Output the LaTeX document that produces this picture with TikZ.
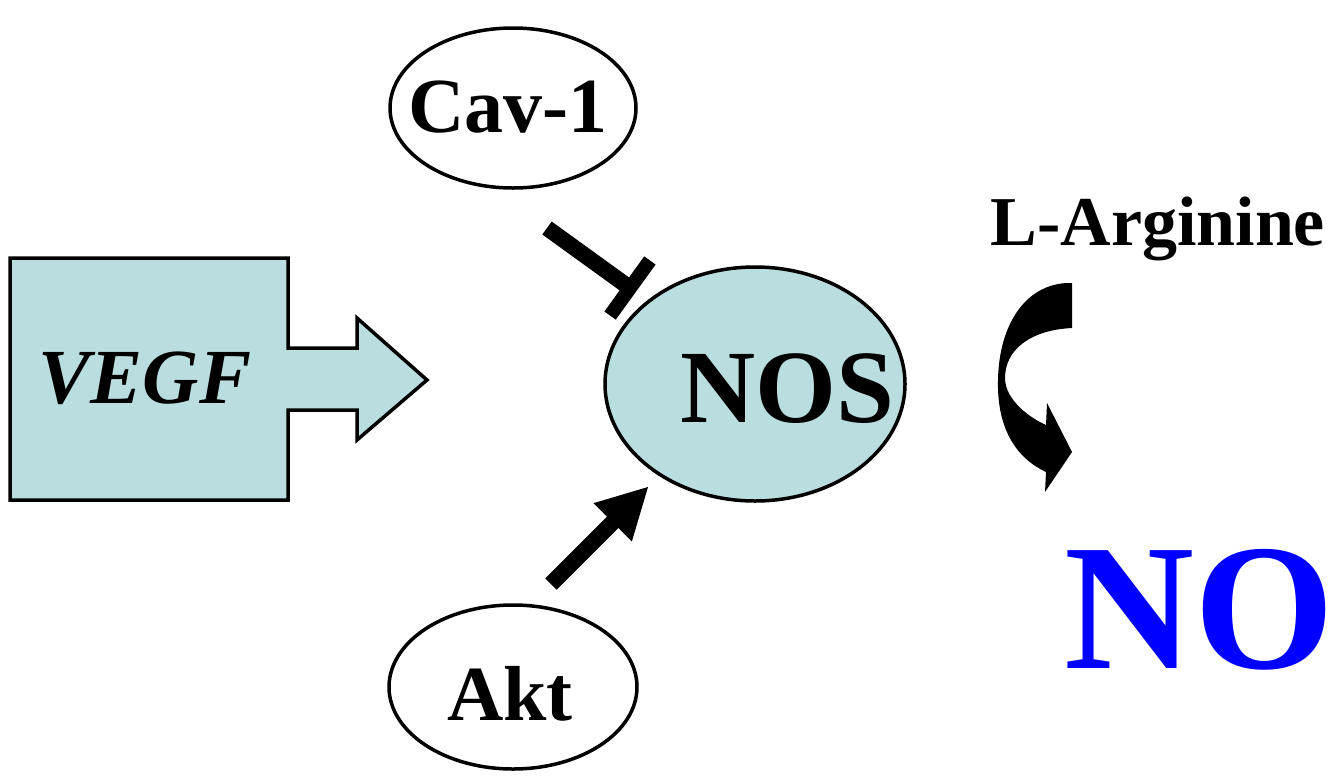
\documentclass[tikz,border=0pt]{standalone}
\usepackage{fontspec}
\setmainfont{Liberation Serif}
\usetikzlibrary{shapes.geometric,arrows.meta,calc}
\definecolor{lblue}{RGB}{186,222,224}
\definecolor{noblue}{RGB}{0,0,255}
\begin{document}
\begin{tikzpicture}[x=1pt,y=-1pt,
  oval/.style={ellipse,draw,line width=3.5pt,inner sep=0pt},
  lbl/.style={font=\bfseries\fontsize{78}{80}\selectfont},
  thick line/.style={line width=16pt},
]
\useasboundingbox (0,0) rectangle (1336,777);
% VEGF block arrow
\draw[line width=3.5pt,fill=lblue,line join=miter]
  (10,258) -- (288,258) -- (288,348) -- (357,348) -- (357,318) -- (427,380)
  -- (357,440) -- (357,410) -- (288,410) -- (288,500) -- (10,500) -- cycle;
\node[font=\bfseries\itshape\fontsize{78}{80}\selectfont, anchor=base] (vegf) at (145,403) {VEGF};
% NOS
\node[oval, fill=lblue, minimum width=300pt, minimum height=234pt] (nos) at (755,384) {};
\node[anchor=base, font=\bfseries\fontsize{104}{106}\selectfont] (nostext) at (787,422) {NOS};
% Cav-1 and Akt
\node[oval, minimum width=246pt, minimum height=160pt] (cav) at (513,108) {};
\node[lbl, anchor=base] (cavtext) at (508,132) {Cav-1};
\node[oval, minimum width=248pt, minimum height=164pt] (akt) at (513,687) {};
\node[lbl, anchor=base] (akttext) at (510,720) {Akt};
% inhibition (Cav-1 -| NOS)
\coordinate (t1) at (547,228);
\coordinate (t2) at (630,288);
\draw[thick line] (t1) -- (t2);
\draw[line width=14pt] ($(t2)!34pt!90:(t1)$) -- ($(t2)!34pt!-90:(t1)$);
% activation (Akt -> NOS)
\coordinate (a1) at (551,584);
\coordinate (a2) at (648,487);
\draw[thick line, -{Triangle[length=50pt,width=54pt,line width=1pt]}] (a1) -- (a2);
% curved arrow L-Arginine -> NO
\fill (1072,283) -- (1072,328)
  .. controls (1030,330) and (1005,350) .. (1005,378)
  .. controls (1005,400) and (1030,418) .. (1046,425)
  -- (1047,403) -- (1072,452) -- (1045,492) -- (1046,472)
  .. controls (1010,455) and (997,420) .. (998,380)
  .. controls (999,325) and (1025,285) .. (1067,283) -- cycle;
\node[anchor=base west, font=\bfseries\fontsize{70}{72}\selectfont] (larg) at (987,245) {L-Arginine};
\node[anchor=base west, text=noblue, font=\bfseries\fontsize{180}{182}\selectfont, inner sep=0pt] (no) at (1064,668) {NO};
\end{tikzpicture}
\end{document}
